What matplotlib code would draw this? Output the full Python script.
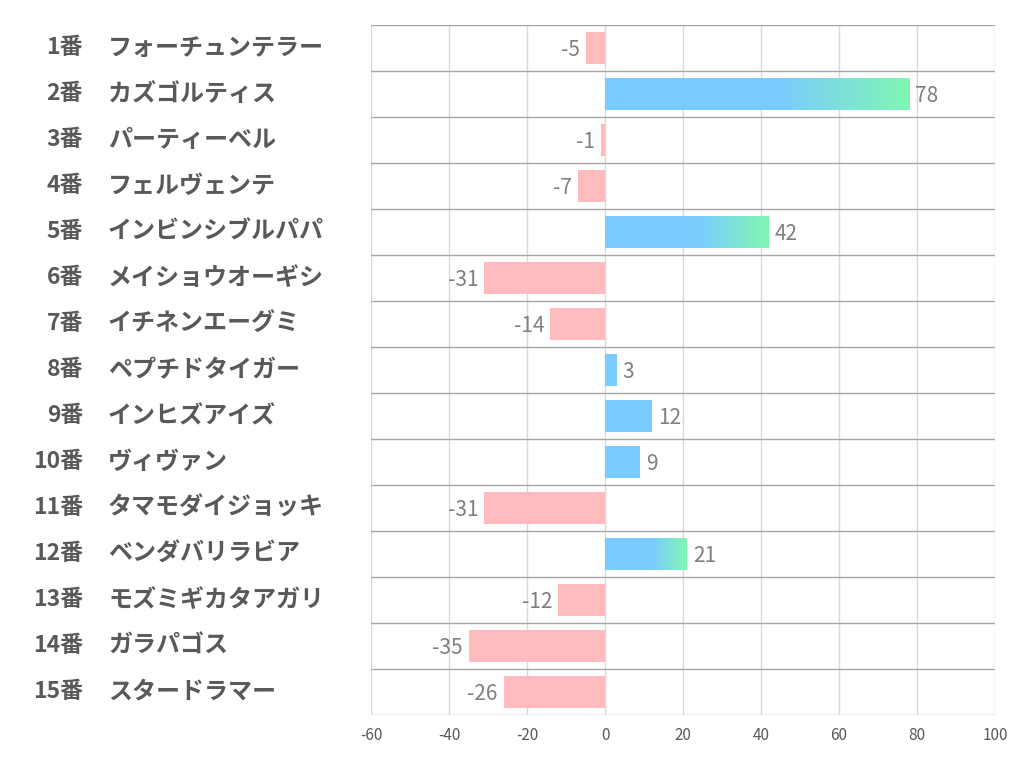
import matplotlib
matplotlib.use("Agg")
import matplotlib.pyplot as plt
import numpy as np
from matplotlib.colors import LinearSegmentedColormap

numbers = ["1番", "2番", "3番", "4番", "5番", "6番", "7番", "8番", "9番", "10番",
           "11番", "12番", "13番", "14番", "15番"]
names = ["フォーチュンテラー", "カズゴルティス", "パーティーベル", "フェルヴェンテ",
         "インビンシブルパパ", "メイショウオーギシ", "イチネンエーグミ", "ペプチドタイガー",
         "インヒズアイズ", "ヴィヴァン", "タマモダイジョッキ", "ベンダバリラビア",
         "モズミギカタアガリ", "ガラパゴス", "スタードラマー"]
values = [-5, 78, -1, -7, 42, -31, -14, 3, 12, 9, -31, 21, -12, -35, -26]
gradient_rows = [1, 4, 11]
xticks = [-60, -40, -20, 0, 20, 40, 60, 80, 100]

BLUE = "#7ACBFF"
GREEN = "#80F7B2"
PINK = "#FFBBBE"
plt.rcParams['font.family'] = ['Noto Sans CJK JP', 'DejaVu Sans']

fig = plt.figure(figsize=(10.22, 7.82), dpi=100)
ax = fig.add_axes([371/1022, (782-715)/782, 624/1022, 690/782])

n = len(values)
bar_h = 0.68

cmap = LinearSegmentedColormap.from_list("bg", [(0, BLUE), (0.57, BLUE), (1, GREEN)])

for i, v in enumerate(values):
    if v < 0:
        ax.barh(i, v, height=bar_h, color=PINK, zorder=3)
        ax.text(v - 1.5, i + 0.05, str(v), ha="right", va="center",
                fontsize=15, color="#7F7F7F", zorder=4)
    else:
        if i in gradient_rows:
            grad = np.linspace(0, 1, 256).reshape(1, -1)
            ax.imshow(grad, cmap=cmap, aspect="auto",
                      extent=[0, v, i + bar_h/2, i - bar_h/2], zorder=3,
                      interpolation="bilinear")
        else:
            ax.barh(i, v, height=bar_h, color=BLUE, zorder=3)
        ax.text(v + 1.5, i + 0.05, str(v), ha="left", va="center",
                fontsize=15, color="#7F7F7F", zorder=4)

ax.set_xlim(-60, 100)
ax.set_ylim(n - 0.5, -0.5)

for x in xticks:
    ax.axvline(x, color="#D9D9D9", lw=1, zorder=1)
for k in range(n + 1):
    ax.axhline(k - 0.5, color="#A6A6A6", lw=1, zorder=2)

for s in ax.spines.values():
    s.set_visible(False)
ax.set_xticks(xticks)
ax.set_xticklabels([str(t) for t in xticks])
ax.tick_params(axis="x", length=0, labelsize=11, colors="#595959", pad=9)
ax.set_yticks([])

tr = ax.get_yaxis_transform()
for i in range(n):
    ax.text((83 - 371) / 624, i, numbers[i], transform=tr, ha="right", va="center",
            fontsize=16.5, fontweight="bold", color="#595959")
    ax.text((108 - 371) / 624, i, names[i], transform=tr, ha="left", va="center",
            fontsize=17.3, fontweight="bold", color="#595959")

fig.savefig("out.png", dpi=100, facecolor="white")
